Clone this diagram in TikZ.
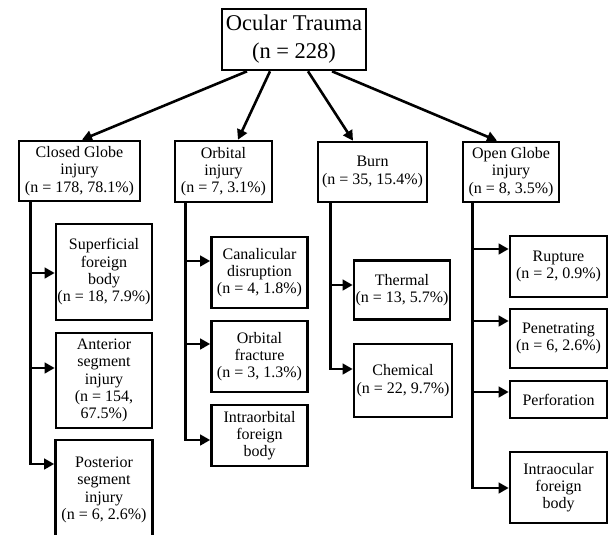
\documentclass[tikz,border=0pt]{standalone}
\usepackage{fontspec}
\setmainfont{Liberation Serif}
\usepackage{tikz}
\usetikzlibrary{arrows.meta}

\begin{document}
\begin{tikzpicture}[x=1pt,y=-1pt,
      box/.style={draw,line width=2.6pt,inner sep=0pt,align=center,
        font=\fontsize{16}{17.3}\selectfont},
      link/.style={line width=2.6pt,-{Triangle[length=10pt,width=10.5pt]}}]
      \useasboundingbox (0,0) rectangle (610,535);

      % top
      \node[box,minimum width=144pt,minimum height=61pt,
        font=\fontsize{22.5}{28}\selectfont] (trauma) at (294,39.5)
        {Ocular Trauma\\(n = 228)};

      % first level
      \node[box,minimum width=121pt,minimum height=60pt] (closed) at (79.5,171)
        {Closed Globe\\injury\\(n = 178, 78.1\%)};
      \node[box,minimum width=97pt,minimum height=61pt] (orbital) at (223.5,171.5)
        {Orbital\\injury\\(n = 7, 3.1\%)};
      \node[box,minimum width=109pt,minimum height=60pt] (burn) at (372.5,172)
        {Burn\\(n = 35, 15.4\%)};
      \node[box,minimum width=96pt,minimum height=60pt] (open) at (511,172)
        {Open Globe\\injury\\(n = 8, 3.5\%)};

      % closed globe
      \node[box,minimum width=96pt,minimum height=96pt] (superficial) at (104,272)
        {Superficial\\foreign\\body\\(n = 18, 7.9\%)};
      \node[box,minimum width=96pt,minimum height=95pt] (anterior) at (104,380.5)
        {Anterior\\segment\\injury\\(n = 154,\\67.5\%)};
      \node[box,minimum width=97pt,minimum height=100pt] (posterior) at (104,490)
        {Posterior\\segment\\injury\\(n = 6, 2.6\%)};

      % orbital
      \node[box,minimum width=96pt,minimum height=71pt] (canalicular) at (259.5,272.5)
        {Canalicular\\disruption\\(n = 4, 1.8\%)};
      \node[box,minimum width=96pt,minimum height=71pt] (fracture) at (259.5,356.5)
        {Orbital\\fracture\\(n = 3, 1.3\%)};
      \node[box,minimum width=96pt,minimum height=61pt] (intraorbital) at (259.5,435.5)
        {Intraorbital\\foreign\\body};

      % burn
      \node[box,minimum width=96pt,minimum height=59pt] (thermal) at (402,290)
        {Thermal\\(n = 13, 5.7\%)};
      \node[box,minimum width=98pt,minimum height=73pt] (chemical) at (403,380.5)
        {Chemical\\(n = 22, 9.7\%)};

      % open globe
      \node[box,minimum width=97pt,minimum height=61pt] (rupture) at (558.5,266.5)
        {Rupture\\(n = 2, 0.9\%)};
      \node[box,minimum width=97pt,minimum height=59pt] (penetrating) at (558.5,338.5)
        {Penetrating\\(n = 6, 2.6\%)};
      \node[box,minimum width=97pt,minimum height=37pt] (perforation) at (558.5,399.5)
        {Perforation};
      \node[box,minimum width=97pt,minimum height=71pt] (intraocular) at (558.5,487.5)
        {Intraocular\\foreign\\body};

      % arrows from the top
      \draw[link] (trauma.south -| 247,0) -- (closed.north -| 82,0);
      \draw[link] (trauma.south -| 270,0) -- (orbital.north -| 238,0);
      \draw[link] (trauma.south -| 308,0) -- (burn.north -| 353,0);
      \draw[link] (trauma.south -| 332,0) -- (open.north -| 497,0);

      % elbows
      \draw[link] ([xshift=13pt]closed.south west) |- (superficial.west |- 0,273);
      \draw[link] ([xshift=13pt]closed.south west) |- (anterior.west |- 0,368);
      \draw[link] ([xshift=13pt]closed.south west) |- (posterior.west |- 0,464);

      \draw[link] ([xshift=12pt]orbital.south west) |- (canalicular.west |- 0,261);
      \draw[link] ([xshift=12pt]orbital.south west) |- (fracture.west |- 0,344);
      \draw[link] ([xshift=12pt]orbital.south west) |- (intraorbital.west |- 0,440);

      \draw[link] ([xshift=14pt]burn.south west) |- (thermal.west |- 0,285);
      \draw[link] ([xshift=14pt]burn.south west) |- (chemical.west |- 0,369);

      \draw[link] ([xshift=11pt]open.south west) |- (rupture.west |- 0,249);
      \draw[link] ([xshift=11pt]open.south west) |- (penetrating.west |- 0,321);
      \draw[link] ([xshift=11pt]open.south west) |- (perforation.west |- 0,392);
      \draw[link] ([xshift=11pt]open.south west) |- (intraocular.west |- 0,488);
    \end{tikzpicture}
\end{document}
